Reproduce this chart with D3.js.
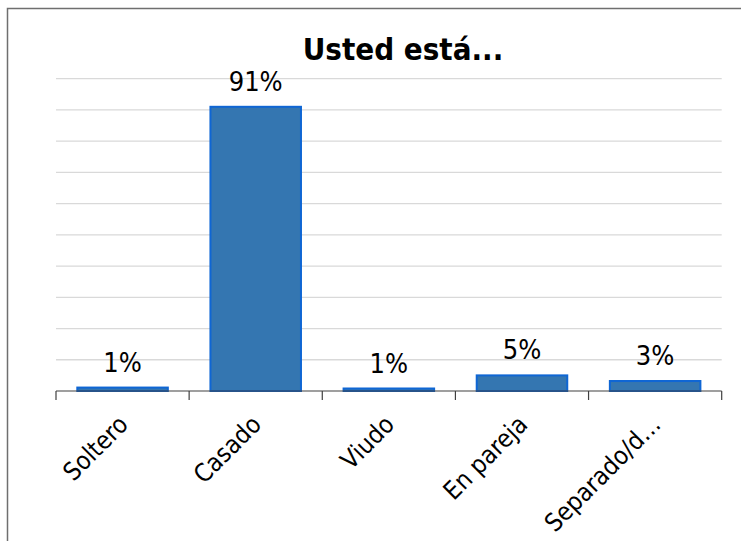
<!DOCTYPE html>
<html>
<head>
<meta charset="utf-8">
<script src="https://cdn.jsdelivr.net/npm/d3@7"></script>
<style>
  html, body { margin: 0; padding: 0; background: #fff; }
  svg { display: block; }
  text { font-family: "DejaVu Sans Condensed", "DejaVu Sans", sans-serif; }
</style>
</head>
<body>
<svg id="chart" width="741" height="541"></svg>
<script>
const title = "Usted está...";
const categories = ["Soltero", "Casado", "Viudo", "En pareja", "Separado/d…"];
const values = [1.1, 91, 0.8, 5.0, 3.2];
const yTicks = [0, 10, 20, 30, 40, 50, 60, 70, 80, 90, 100];

const svg = d3.select("#chart");
const plot = { left: 56, right: 721.7, top: 78.7, bottom: 391 };

// outer chart border
svg.append("rect")
  .attr("x", 7.5).attr("y", 8.5)
  .attr("width", 760).attr("height", 560)
  .attr("fill", "none").attr("stroke", "#6f6f6f").attr("stroke-width", 1.5);

const x = d3.scaleBand()
  .domain(categories)
  .range([plot.left, plot.right])
  .paddingInner(0.32)
  .paddingOuter(0.16);
const step = x.step();

const y = d3.scaleLinear().domain([0, 100]).range([plot.bottom, plot.top]);

// gridlines
svg.append("g").selectAll("line")
  .data(yTicks.filter(d => d > 0))
  .join("line")
  .attr("x1", plot.left).attr("x2", plot.right)
  .attr("y1", d => y(d)).attr("y2", d => y(d))
  .attr("stroke", "#d9d9d9").attr("stroke-width", 1.3);

// bars
svg.append("g").selectAll("rect")
  .data(values)
  .join("rect")
  .attr("x", (d, i) => x(categories[i]))
  .attr("y", d => y(d))
  .attr("width", x.bandwidth())
  .attr("height", d => y(0) - y(d))
  .attr("fill", "#3476b1")
  .attr("stroke", "#0f66d4")
  .attr("stroke-width", 2);

// x axis line and ticks at band boundaries
const boundaries = d3.range(categories.length + 1).map(i => plot.left + i * step);
svg.append("line")
  .attr("x1", plot.left).attr("x2", plot.right)
  .attr("y1", y(0)).attr("y2", y(0))
  .attr("stroke", "#404040").attr("stroke-width", 1.2);
svg.append("g").selectAll("line")
  .data(boundaries)
  .join("line")
  .attr("x1", d => d).attr("x2", d => d)
  .attr("y1", y(0)).attr("y2", y(0) + 9)
  .attr("stroke", "#404040").attr("stroke-width", 1.2);

// value labels
svg.append("g").selectAll("text")
  .data(values)
  .join("text")
  .attr("x", (d, i) => x(categories[i]) + x.bandwidth() / 2)
  .attr("y", d => y(d) - 16)
  .attr("text-anchor", "middle")
  .attr("font-size", 27)
  .attr("fill", "#000")
  .text(d => Math.round(d) + "%");

// category labels rotated
svg.append("g").selectAll("text")
  .data(categories)
  .join("text")
  .attr("transform", d => `translate(${x(d) + x.bandwidth() / 2 + 7},${y(0) + 35}) rotate(-45)`)
  .attr("text-anchor", "end")
  .attr("font-size", 25)
  .attr("fill", "#000")
  .text(d => d);

// title
svg.append("text")
  .attr("x", 403).attr("y", 60)
  .attr("text-anchor", "middle")
  .attr("font-size", 31)
  .attr("font-weight", "bold")
  .attr("fill", "#000")
  .text(title);
</script>
</body>
</html>
